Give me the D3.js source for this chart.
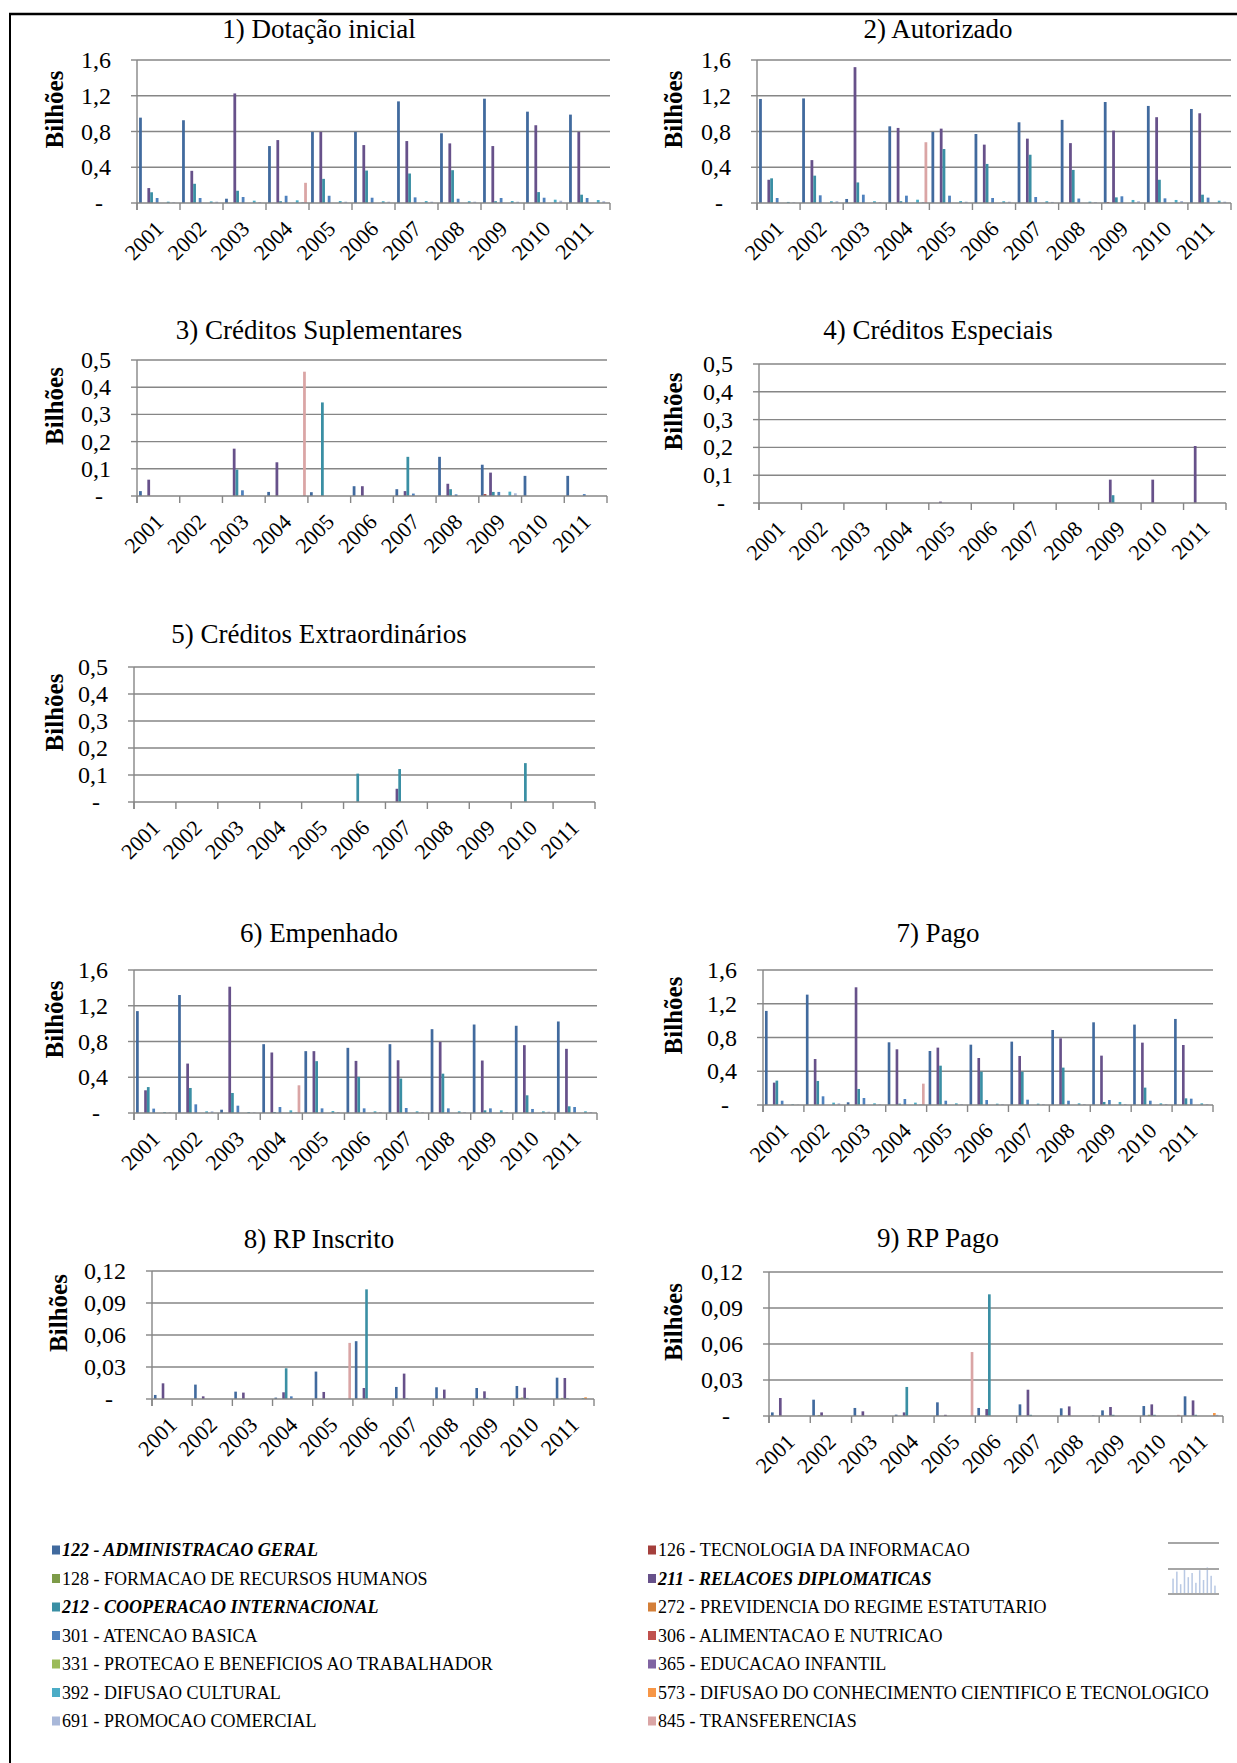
<!DOCTYPE html>
<html>
<head>
<meta charset="utf-8">
<script src="https://cdn.jsdelivr.net/npm/d3@7"></script>
<style>
    body { margin: 0; background: #fff; }
    svg { display: block; }
    text { font-family: "Liberation Serif", "Times New Roman", serif; fill: #000; }
</style>
</head>
<body>
<svg id="chart" width="1237" height="1763"></svg>
<script>
const years = ["2001", "2002", "2003", "2004", "2005", "2006", "2007", "2008", "2009", "2010", "2011"];
const seriesCodes = ["122", "126", "128", "211", "212", "272", "301", "306", "331", "365", "392", "573", "691", "845"];
const seriesNames = [
    "122 - ADMINISTRACAO GERAL", "126 - TECNOLOGIA DA INFORMACAO",
    "128 - FORMACAO DE RECURSOS HUMANOS", "211 - RELACOES DIPLOMATICAS",
    "212 - COOPERACAO INTERNACIONAL", "272 - PREVIDENCIA DO REGIME ESTATUTARIO",
    "301 - ATENCAO BASICA", "306 - ALIMENTACAO E NUTRICAO",
    "331 - PROTECAO E BENEFICIOS AO TRABALHADOR", "365 - EDUCACAO INFANTIL",
    "392 - DIFUSAO CULTURAL", "573 - DIFUSAO DO CONHECIMENTO CIENTIFICO E TECNOLOGICO",
    "691 - PROMOCAO COMERCIAL", "845 - TRANSFERENCIAS"
];
const seriesColors = ["#416a9e", "#a43f3c", "#7d9b48", "#67518a", "#3a8fa4", "#d47f38", "#4f81bd",
    "#c0504d", "#9bbb59", "#8064a2", "#4bacc6", "#f79646", "#a9b8d9", "#daa5a5"];
const boldSeries = ["122", "211", "212"];

// values in billions; one row per series (seriesCodes order), one column per year
const dotacaoInicial = [
    [0.955, 0.926, 0.048, 0.637, 0.796, 0.796, 1.137, 0.780, 1.167, 1.022, 0.989],
    [0, 0, 0, 0, 0, 0, 0, 0, 0, 0, 0],
    [0, 0, 0, 0, 0, 0, 0, 0, 0, 0, 0],
    [0.167, 0.360, 1.226, 0.704, 0.796, 0.648, 0.693, 0.667, 0.637, 0.870, 0.796],
    [0.120, 0.215, 0.137, 0.020, 0.270, 0.363, 0.330, 0.367, 0.020, 0.122, 0.093],
    [0, 0, 0, 0, 0, 0, 0, 0, 0, 0, 0],
    [0.056, 0.056, 0.067, 0.081, 0.081, 0.059, 0.063, 0.048, 0.056, 0.059, 0.056],
    [0, 0, 0, 0, 0, 0, 0, 0, 0, 0, 0],
    [0, 0, 0, 0, 0, 0, 0, 0, 0, 0, 0],
    [0, 0, 0, 0, 0, 0, 0, 0, 0, 0, 0],
    [0.015, 0.018, 0.026, 0.030, 0.022, 0.020, 0.022, 0.020, 0.022, 0.037, 0.033],
    [0, 0, 0, 0, 0, 0, 0, 0, 0, 0, 0],
    [0.008, 0.015, 0.010, 0.010, 0.015, 0.015, 0.015, 0.015, 0.015, 0.026, 0.020],
    [0, 0, 0, 0.226, 0, 0, 0, 0, 0, 0, 0]
];
const autorizado = [
    [1.164, 1.170, 0.045, 0.858, 0.795, 0.772, 0.903, 0.930, 1.130, 1.086, 1.052],
    [0, 0, 0, 0, 0, 0, 0, 0, 0.010, 0, 0],
    [0, 0, 0, 0, 0, 0, 0, 0, 0, 0, 0],
    [0.260, 0.480, 1.520, 0.840, 0.832, 0.653, 0.720, 0.670, 0.810, 0.960, 1.004],
    [0.276, 0.306, 0.230, 0.020, 0.604, 0.437, 0.540, 0.370, 0.063, 0.260, 0.093],
    [0, 0, 0, 0, 0, 0, 0, 0, 0, 0, 0],
    [0.056, 0.086, 0.093, 0.082, 0.082, 0.056, 0.067, 0.050, 0.075, 0.052, 0.060],
    [0, 0, 0, 0, 0, 0, 0, 0, 0, 0, 0],
    [0, 0, 0, 0, 0, 0, 0, 0, 0, 0, 0],
    [0, 0, 0, 0, 0, 0, 0, 0, 0, 0, 0],
    [0.012, 0.020, 0.020, 0.037, 0.022, 0.020, 0.020, 0.015, 0.034, 0.034, 0.026],
    [0, 0, 0, 0, 0, 0, 0, 0, 0, 0, 0],
    [0.008, 0.020, 0.010, 0.010, 0.015, 0.015, 0.012, 0.010, 0.020, 0.022, 0.015],
    [0, 0, 0, 0.680, 0, 0, 0, 0, 0, 0, 0]
];
const creditosSuplementares = [
    [0.018, 0, 0, 0.015, 0.014, 0.036, 0.025, 0.144, 0.115, 0.074, 0.074],
    [0, 0, 0, 0, 0, 0, 0, 0, 0.007, 0, 0],
    [0, 0, 0, 0, 0, 0, 0, 0, 0, 0, 0],
    [0.060, 0, 0.174, 0.124, 0, 0.036, 0.018, 0.045, 0.086, 0, 0],
    [0, 0, 0.097, 0, 0.344, 0, 0.144, 0.025, 0.015, 0, 0],
    [0, 0, 0, 0, 0, 0, 0, 0, 0, 0, 0],
    [0, 0, 0.021, 0, 0, 0, 0.009, 0.006, 0.015, 0, 0.007],
    [0, 0, 0, 0, 0, 0, 0, 0, 0, 0, 0],
    [0, 0, 0, 0, 0, 0, 0, 0, 0, 0, 0],
    [0, 0, 0, 0, 0, 0, 0, 0, 0, 0, 0],
    [0, 0, 0, 0, 0, 0, 0, 0, 0.016, 0, 0],
    [0, 0, 0, 0, 0, 0, 0, 0, 0, 0, 0],
    [0, 0, 0, 0, 0, 0, 0, 0, 0.010, 0, 0],
    [0, 0, 0, 0.457, 0, 0, 0, 0, 0, 0, 0]
];
const creditosEspeciais = [
    [0, 0, 0, 0, 0, 0, 0, 0, 0, 0, 0],
    [0, 0, 0, 0, 0, 0, 0, 0, 0, 0, 0],
    [0, 0, 0, 0, 0, 0, 0, 0, 0, 0, 0],
    [0, 0, 0, 0, 0.005, 0, 0, 0, 0.084, 0.084, 0.205],
    [0, 0, 0, 0, 0, 0, 0, 0, 0.028, 0, 0],
    [0, 0, 0, 0, 0, 0, 0, 0, 0, 0, 0],
    [0, 0, 0, 0, 0, 0, 0, 0, 0, 0, 0],
    [0, 0, 0, 0, 0, 0, 0, 0, 0, 0, 0],
    [0, 0, 0, 0, 0, 0, 0, 0, 0, 0, 0],
    [0, 0, 0, 0, 0, 0, 0, 0, 0, 0, 0],
    [0, 0, 0, 0, 0, 0, 0, 0, 0, 0, 0],
    [0, 0, 0, 0, 0, 0, 0, 0, 0, 0, 0],
    [0, 0, 0, 0, 0, 0, 0, 0, 0, 0, 0],
    [0, 0, 0, 0, 0, 0, 0, 0, 0, 0, 0]
];
const creditosExtraordinarios = [
    [0, 0, 0, 0, 0, 0, 0, 0, 0, 0, 0],
    [0, 0, 0, 0, 0, 0, 0, 0, 0, 0, 0],
    [0, 0, 0, 0, 0, 0, 0, 0, 0, 0, 0],
    [0, 0, 0, 0, 0, 0, 0.049, 0, 0, 0, 0],
    [0, 0, 0, 0, 0, 0.105, 0.122, 0, 0, 0.144, 0],
    [0, 0, 0, 0, 0, 0, 0, 0, 0, 0, 0],
    [0, 0, 0, 0, 0, 0, 0, 0, 0, 0, 0],
    [0, 0, 0, 0, 0, 0, 0, 0, 0, 0, 0],
    [0, 0, 0, 0, 0, 0, 0, 0, 0, 0, 0],
    [0, 0, 0, 0, 0, 0, 0, 0, 0, 0, 0],
    [0, 0, 0, 0, 0, 0, 0, 0, 0, 0, 0],
    [0, 0, 0, 0, 0, 0, 0, 0, 0, 0, 0],
    [0, 0, 0, 0, 0, 0, 0, 0, 0, 0, 0],
    [0, 0, 0, 0, 0, 0, 0, 0, 0, 0, 0]
];
const empenhado = [
    [1.140, 1.320, 0.037, 0.770, 0.692, 0.729, 0.770, 0.938, 0.990, 0.976, 1.024],
    [0, 0, 0, 0, 0, 0, 0, 0, 0, 0, 0],
    [0, 0, 0, 0, 0, 0, 0, 0, 0, 0, 0],
    [0.254, 0.553, 1.413, 0.677, 0.692, 0.583, 0.590, 0.796, 0.587, 0.759, 0.718],
    [0.290, 0.280, 0.224, 0.011, 0.580, 0.404, 0.385, 0.440, 0.030, 0.198, 0.075],
    [0, 0, 0, 0, 0, 0, 0, 0, 0, 0, 0],
    [0.049, 0.097, 0.082, 0.067, 0.052, 0.052, 0.056, 0.052, 0.052, 0.045, 0.067],
    [0, 0, 0, 0, 0, 0, 0, 0, 0, 0, 0],
    [0, 0, 0, 0, 0, 0, 0, 0, 0, 0, 0],
    [0, 0, 0, 0, 0, 0, 0, 0, 0, 0, 0],
    [0.011, 0.019, 0.011, 0.030, 0.022, 0.019, 0.019, 0.019, 0.030, 0.019, 0.019],
    [0, 0, 0, 0, 0, 0, 0, 0, 0, 0, 0],
    [0.008, 0.019, 0.008, 0.008, 0.011, 0.011, 0.011, 0.011, 0.011, 0.015, 0.011],
    [0, 0, 0, 0.310, 0, 0, 0, 0, 0, 0, 0]
];
const pago = [
    [1.115, 1.308, 0.032, 0.743, 0.640, 0.715, 0.751, 0.889, 0.980, 0.953, 1.020],
    [0, 0, 0, 0, 0, 0, 0, 0, 0, 0, 0],
    [0, 0, 0, 0, 0, 0, 0, 0, 0, 0, 0],
    [0.265, 0.545, 1.395, 0.660, 0.680, 0.557, 0.581, 0.790, 0.585, 0.739, 0.711],
    [0.289, 0.285, 0.190, 0.016, 0.466, 0.395, 0.395, 0.443, 0.036, 0.206, 0.079],
    [0, 0, 0, 0, 0, 0, 0, 0, 0, 0, 0],
    [0.051, 0.103, 0.083, 0.071, 0.051, 0.059, 0.063, 0.051, 0.059, 0.051, 0.075],
    [0, 0, 0, 0, 0, 0, 0, 0, 0, 0, 0],
    [0, 0, 0, 0, 0, 0, 0, 0, 0, 0, 0],
    [0, 0, 0, 0, 0, 0, 0, 0, 0, 0, 0],
    [0.008, 0.028, 0.020, 0.028, 0.020, 0.016, 0.016, 0.020, 0.036, 0.020, 0.020],
    [0, 0, 0, 0, 0, 0, 0, 0, 0, 0, 0],
    [0.005, 0.020, 0.008, 0.008, 0.010, 0.010, 0.010, 0.010, 0.012, 0.012, 0.010],
    [0, 0, 0, 0.253, 0, 0, 0, 0, 0, 0, 0]
];
const rpInscrito = [
    [0.0038, 0.0135, 0.0069, 0.0013, 0.0257, 0.0542, 0.0113, 0.0110, 0.0103, 0.0122, 0.0200],
    [0, 0, 0, 0, 0, 0, 0, 0, 0, 0.0008, 0],
    [0, 0, 0, 0, 0, 0, 0, 0, 0, 0.0013, 0.0010],
    [0.0147, 0.0025, 0.0060, 0.0063, 0.0066, 0.0103, 0.0238, 0.0088, 0.0072, 0.0106, 0.0197],
    [0, 0, 0, 0.0288, 0, 0.1028, 0.0006, 0, 0.0010, 0.0010, 0.0008],
    [0, 0, 0, 0, 0, 0, 0, 0, 0, 0, 0],
    [0, 0, 0, 0.0025, 0, 0, 0, 0, 0, 0, 0],
    [0, 0, 0, 0, 0, 0, 0, 0, 0, 0, 0],
    [0, 0, 0, 0, 0, 0, 0, 0, 0, 0, 0],
    [0, 0, 0, 0, 0, 0, 0, 0, 0, 0, 0],
    [0, 0, 0, 0, 0, 0, 0, 0, 0, 0, 0.0008],
    [0, 0, 0, 0, 0, 0, 0, 0, 0, 0, 0.0016],
    [0, 0, 0, 0, 0, 0, 0, 0, 0, 0, 0],
    [0, 0, 0, 0, 0.0526, 0, 0, 0, 0, 0, 0]
];
const rpPago = [
    [0.0030, 0.0136, 0.0067, 0.0011, 0.0114, 0.0067, 0.0097, 0.0064, 0.0047, 0.0083, 0.0164],
    [0, 0, 0, 0, 0, 0, 0, 0, 0, 0, 0],
    [0, 0.0008, 0, 0, 0, 0, 0, 0, 0, 0.0010, 0],
    [0.0150, 0.0030, 0.0039, 0.0030, 0.0010, 0.0058, 0.0219, 0.0080, 0.0075, 0.0097, 0.0130],
    [0, 0, 0, 0.0242, 0, 0.1014, 0.0010, 0, 0.0010, 0.0010, 0.0010],
    [0, 0, 0, 0, 0, 0, 0, 0, 0, 0, 0],
    [0, 0, 0, 0, 0, 0, 0, 0, 0, 0, 0],
    [0, 0, 0, 0, 0, 0, 0, 0, 0, 0, 0],
    [0, 0, 0, 0, 0, 0, 0, 0, 0, 0, 0],
    [0, 0, 0, 0, 0, 0, 0, 0, 0, 0, 0],
    [0, 0, 0, 0, 0, 0, 0, 0, 0, 0, 0],
    [0, 0, 0, 0, 0, 0, 0, 0, 0, 0, 0.0025],
    [0, 0, 0, 0, 0, 0, 0, 0.0008, 0, 0, 0.0010],
    [0, 0, 0, 0, 0.0533, 0, 0, 0, 0, 0.0010, 0]
];

const panelTitles = ["1) Dotação inicial", "2) Autorizado", "3) Créditos Suplementares", "4) Créditos Especiais",
    "5) Créditos Extraordinários", "6) Empenhado", "7) Pago", "8) RP Inscrito", "9) RP Pago"];

// faint bars of the stray chart thumbnail next to the legend
const thumbBars = [0.55, 0.8, 0.35, 0.9, 0.6, 0.75, 0.4, 0.85, 0.5, 0.95, 0.65, 0.3];

// layout of each small chart on the page
const panels = [
    { title: panelTitles[0], data: dotacaoInicial, max: 1.6, step: 0.4, dec: 1, x0: 137, x1: 610, top: 60, zero: 203, titleY: 38, labelX: 54, titleX: 319 },
    { title: panelTitles[1], data: autorizado, max: 1.6, step: 0.4, dec: 1, x0: 757, x1: 1231, top: 60, zero: 203, titleY: 38, labelX: 673, titleX: 938 },
    { title: panelTitles[2], data: creditosSuplementares, max: 0.5, step: 0.1, dec: 1, x0: 137, x1: 607, top: 360, zero: 496, titleY: 339, labelX: 54, titleX: 319 },
    { title: panelTitles[3], data: creditosEspeciais, max: 0.5, step: 0.1, dec: 1, x0: 759, x1: 1226, top: 364, zero: 503, titleY: 339, labelX: 673, titleX: 938 },
    { title: panelTitles[4], data: creditosExtraordinarios, max: 0.5, step: 0.1, dec: 1, x0: 134, x1: 595, top: 667, zero: 802, titleY: 643, labelX: 54, titleX: 319 },
    { title: panelTitles[5], data: empenhado, max: 1.6, step: 0.4, dec: 1, x0: 134, x1: 597, top: 970, zero: 1113, titleY: 942, labelX: 54, titleX: 319 },
    { title: panelTitles[6], data: pago, max: 1.6, step: 0.4, dec: 1, x0: 763, x1: 1213, top: 970, zero: 1105, titleY: 942, labelX: 673, titleX: 938 },
    { title: panelTitles[7], data: rpInscrito, max: 0.12, step: 0.03, dec: 2, x0: 152, x1: 594, top: 1271, zero: 1399, titleY: 1248, labelX: 58, titleX: 319 },
    { title: panelTitles[8], data: rpPago, max: 0.12, step: 0.03, dec: 2, x0: 769, x1: 1223, top: 1272, zero: 1416, titleY: 1247, labelX: 673, titleX: 938 }
];

const gridColor = "#868686";
const svg = d3.select("#chart");

// page frame (top and left edges)
svg.append("line").attr("x1", 9).attr("x2", 1237).attr("y1", 14).attr("y2", 14)
    .style("stroke", "#000").style("stroke-width", 2.5);
svg.append("line").attr("x1", 10).attr("x2", 10).attr("y1", 13).attr("y2", 1763)
    .style("stroke", "#000").style("stroke-width", 2);

const drawPanel = (p) => {
    const g = svg.append("g");
    const x = d3.scaleBand().domain(years).range([p.x0, p.x1]);
    const xs = d3.scaleBand().domain(seriesCodes).range([0, x.bandwidth()]).paddingOuter(0.75);
    const y = d3.scaleLinear().domain([0, p.max]).range([p.zero, p.top]);
    const nTicks = Math.round(p.max / p.step);
    const ticks = d3.range(0, nTicks + 1).map(i => i * p.step);
    const fmt = v => v === 0 ? "-" : d3.format("." + p.dec + "f")(v).replace(".", ",");

    // gridlines
    g.selectAll(".grid").data(ticks.filter(t => t > 0)).enter().append("line")
        .attr("x1", p.x0).attr("x2", p.x1)
        .attr("y1", d => y(d)).attr("y2", d => y(d))
        .style("stroke", gridColor).style("stroke-width", 1.4);

    // y ticks and labels
    g.selectAll(".ytick").data(ticks).enter().append("line")
        .attr("x1", p.x0 - 6).attr("x2", p.x0)
        .attr("y1", d => y(d)).attr("y2", d => y(d))
        .style("stroke", gridColor).style("stroke-width", 1.4);
    g.selectAll(".ylab").data(ticks).enter().append("text")
        .attr("x", d => d === 0 ? p.x0 - 26 - (p.dec === 1 ? 8 : 13) : p.x0 - 26)
        .attr("y", d => y(d))
        .attr("text-anchor", "end")
        .attr("dominant-baseline", "central")
        .style("font-size", "24px")
        .text(fmt);

    // bars
    p.data.forEach((row, si) => {
        g.selectAll(null).data(row.map((v, yi) => ({ v: v, year: years[yi] })).filter(d => d.v > 0))
            .enter().append("rect")
            .attr("x", d => x(d.year) + xs(seriesCodes[si]))
            .attr("width", xs.bandwidth())
            .attr("y", d => y(d.v))
            .attr("height", d => p.zero - y(d.v))
            .style("fill", seriesColors[si]);
    });

    // axes lines
    g.append("line").attr("x1", p.x0).attr("x2", p.x0).attr("y1", p.top).attr("y2", p.zero + 7)
        .style("stroke", gridColor).style("stroke-width", 1.4);
    g.append("line").attr("x1", p.x0).attr("x2", p.x1).attr("y1", p.zero).attr("y2", p.zero)
        .style("stroke", gridColor).style("stroke-width", 1.4);
    g.selectAll(".xtick").data(d3.range(0, years.length + 1)).enter().append("line")
        .attr("x1", i => p.x0 + i * x.step()).attr("x2", i => p.x0 + i * x.step())
        .attr("y1", p.zero).attr("y2", p.zero + 7)
        .style("stroke", gridColor).style("stroke-width", 1.4);

    // year labels
    g.selectAll(".xlab").data(years).enter().append("text")
        .attr("transform", d => "translate(" + (x(d) + x.bandwidth() / 2 + 1) + "," + (p.zero + 22) + ") rotate(-45)")
        .attr("text-anchor", "end")
        .attr("dominant-baseline", "central")
        .style("font-size", "22px")
        .text(d => d);

    // title and axis title
    g.append("text").attr("x", p.titleX).attr("y", p.titleY)
        .attr("text-anchor", "middle").style("font-size", "27px").text(p.title);
    g.append("text")
        .attr("transform", "translate(" + p.labelX + "," + ((p.top + p.zero) / 2 - 22) + ") rotate(-90)")
        .attr("text-anchor", "middle").attr("dominant-baseline", "central")
        .style("font-size", "25px").style("font-weight", "bold").text("Bilhões");
};

panels.forEach(drawPanel);

// legend, two columns, row-major
const legend = svg.append("g");
seriesCodes.forEach((code, i) => {
    const col = i % 2, row = Math.floor(i / 2);
    const lx = col === 0 ? 52 : 648;
    const ly = 1550 + row * 28.5;
    legend.append("rect").attr("x", lx).attr("y", ly - 4.5).attr("width", 8).attr("height", 9)
        .style("fill", seriesColors[i]);
    const isBold = boldSeries.includes(code);
    legend.append("text").attr("x", lx + 10).attr("y", ly)
        .attr("dominant-baseline", "central")
        .style("font-size", "18px")
        .style("font-weight", isBold ? "bold" : "normal")
        .style("font-style", isBold ? "italic" : "normal")
        .text(seriesNames[i]);
});

// stray chart thumbnail at the right of the legend
const thumbX = d3.scaleBand().domain(d3.range(thumbBars.length)).range([1170, 1218]).padding(0.6);
const thumbY = d3.scaleLinear().domain([0, 1]).range([1594, 1566]);
legend.append("line").attr("x1", 1168).attr("x2", 1219).attr("y1", 1543).attr("y2", 1543)
    .style("stroke", "#a6a6a6").style("stroke-width", 2);
legend.selectAll(".thumb").data(thumbBars).enter().append("rect")
    .attr("x", (d, i) => thumbX(i)).attr("width", thumbX.bandwidth())
    .attr("y", d => thumbY(d)).attr("height", d => 1594 - thumbY(d))
    .style("fill", "#b9c9e4");
legend.append("line").attr("x1", 1168).attr("x2", 1219).attr("y1", 1569).attr("y2", 1569)
    .style("stroke", "#a6a6a6").style("stroke-width", 2);
legend.append("line").attr("x1", 1168).attr("x2", 1219).attr("y1", 1594).attr("y2", 1594)
    .style("stroke", "#a6a6a6").style("stroke-width", 2);
</script>
</body>
</html>
